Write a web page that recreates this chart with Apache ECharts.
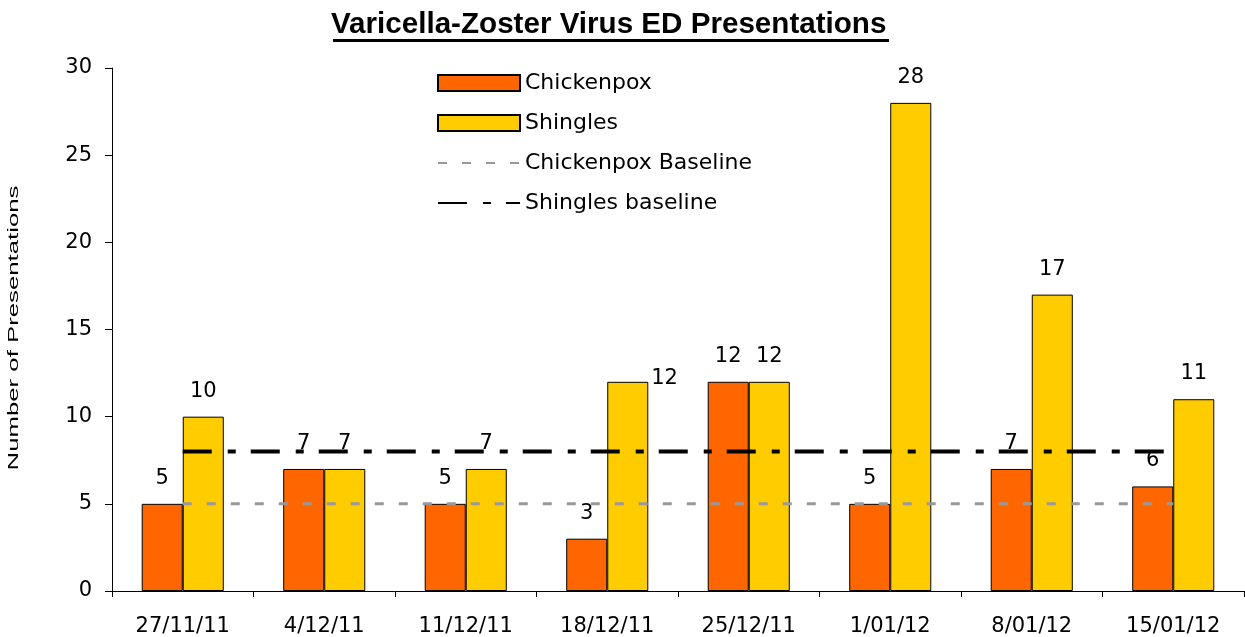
<!DOCTYPE html>
<html>
<head>
<meta charset="utf-8">
<script src="https://cdn.jsdelivr.net/npm/echarts@6/dist/echarts.min.js"></script>
<style>
  html, body {margin: 0; padding: 0; background: #fff;}
  #chartContainer {width: 1245px; height: 637px;}
</style>
</head>
<body>
<div id="chartContainer"></div>
<script>
var categories = ['27/11/11', '4/12/11', '11/12/11', '18/12/11', '25/12/11', '1/01/12', '8/01/12', '15/01/12'];
var chickenpox = [5, 7, 5, 3, 12, 5, 7, 6];
var shingles = [10, 7, 7, 12, 12, 28, 17, 11];
var chickenpoxBaseline = [5, 5, 5, 5, 5, 5, 5, 5];
var shinglesBaseline = [8, 8, 8, 8, 8, 8, 8, 8];
var yTicks = [0, 5, 10, 15, 20, 25, 30];

var font = 'DejaVu Sans, sans-serif';
var arial = 'Liberation Sans, Arial, sans-serif';

// shingles label for 18/12/11 sits to the right of the bar
var shinglesData = shingles.map(function(v, i) {
    if (i == 3) {
        return {value: v, label: {position: [44, -3], verticalAlign: 'middle', align: 'left'}};
    }
    return v;
});

var myChart = echarts.init(document.getElementById('chartContainer'));

myChart.setOption({
    animation: false,
    textStyle: {fontFamily: font},
    title: {
        text: 'Varicella-Zoster Virus ED Presentations',
        left: 331,
        top: 10,
        padding: 0,
        textStyle: {fontSize: 29.6, fontWeight: 'bold', color: '#000', fontFamily: arial}
    },
    graphic: [
        {
            // title underline
            type: 'rect',
            shape: {x: 333, y: 39, width: 556, height: 3},
            style: {fill: '#000'}
        },
        {
            // y axis name, squeezed like the original
            type: 'text',
            x: 14,
            y: 328,
            rotation: Math.PI / 2,
            scaleX: 1.84,
            style: {
                text: 'Number of Presentations',
                font: '14px Liberation Sans, Arial, sans-serif',
                fill: '#000',
                align: 'center',
                verticalAlign: 'middle'
            }
        }
    ],
    grid: {left: 112, right: 1, top: 68, bottom: 44, containLabel: false},
    legend: {
        orient: 'vertical',
        left: 437,
        top: 72,
        padding: 0,
        itemWidth: 82,
        itemHeight: 16,
        itemGap: 18,
        textStyle: {fontSize: 22, color: '#000', fontFamily: font},
        data: [
            {name: 'Chickenpox', icon: 'rect'},
            {name: 'Shingles', icon: 'rect'},
            {name: 'Chickenpox Baseline'},
            {name: 'Shingles baseline'}
        ]
    },
    xAxis: {
        type: 'category',
        data: categories,
        axisLine: {lineStyle: {color: '#000', width: 1}},
        axisTick: {show: true, length: 6, lineStyle: {color: '#000'}},
        axisLabel: {fontSize: 21, color: '#000', margin: 25, interval: 0}
    },
    yAxis: {
        type: 'value',
        min: yTicks[0],
        max: yTicks[yTicks.length - 1],
        interval: 5,
        axisLine: {show: true, lineStyle: {color: '#000', width: 1}},
        axisTick: {show: true, length: 7, lineStyle: {color: '#000'}},
        axisLabel: {fontSize: 21, color: '#000', margin: 20},
        splitLine: {show: false}
    },
    series: [
        {
            name: 'Chickenpox',
            type: 'bar',
            data: chickenpox,
            barGap: '0%',
            barCategoryGap: '42%',
            itemStyle: {color: '#FF6600', borderColor: '#000', borderWidth: 1},
            label: {show: true, position: 'top', distance: 15, fontSize: 21, color: '#000'}
        },
        {
            name: 'Shingles',
            type: 'bar',
            data: shinglesData,
            itemStyle: {color: '#FFCC00', borderColor: '#000', borderWidth: 1},
            label: {show: true, position: 'top', distance: 15, fontSize: 21, color: '#000'}
        },
        {
            name: 'Chickenpox Baseline',
            type: 'line',
            data: chickenpoxBaseline,
            symbol: 'rect',
            showSymbol: false,
            z: 5,
            itemStyle: {color: 'rgba(0,0,0,0)'},
            lineStyle: {color: '#999999', width: 3, type: [9, 15]}
        },
        {
            name: 'Shingles baseline',
            type: 'line',
            data: shinglesBaseline,
            symbol: 'rect',
            showSymbol: false,
            z: 5,
            itemStyle: {color: 'rgba(0,0,0,0)'},
            lineStyle: {color: '#000', width: 4, type: [29, 16, 8, 15]}
        }
    ]
});
window.onresize = myChart.resize;
</script>
</body>
</html>
